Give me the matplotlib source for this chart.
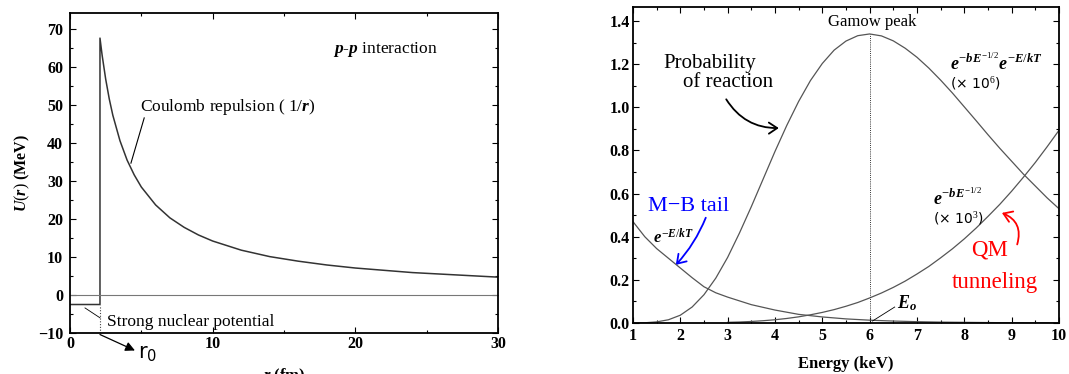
import matplotlib
matplotlib.use("Agg")
import matplotlib.pyplot as plt
from matplotlib.ticker import MultipleLocator, FormatStrFormatter
from matplotlib.patches import FancyArrowPatch

plt.rcParams["font.family"] = ["Liberation Serif", "DejaVu Serif"]
plt.rcParams["mathtext.fontset"] = "custom"
plt.rcParams["mathtext.rm"] = "Liberation Serif"
plt.rcParams["mathtext.it"] = "Liberation Serif:italic:bold"
plt.rcParams["mathtext.bf"] = "Liberation Serif:bold"

# ── p-p potential ─────────────────────────────────────────
R0         = 2.1
WELL_DEPTH = -2.5
r_coul = [2.1, 2.25, 2.5, 2.75, 3, 3.5, 4, 4.5, 5, 6, 7, 8, 9, 10,
          12, 14, 16, 18, 20, 22, 24, 26, 28, 30]
U_coul = [67.6, 63.1, 56.8, 51.6, 47.3, 40.6, 35.5, 31.6, 28.4, 23.7, 20.3,
          17.8, 15.8, 14.2, 11.8, 10.1, 8.9, 7.9, 7.1, 6.5, 5.9, 5.5, 5.1, 4.7]

# ── Gamow peak curves ─────────────────────────────────────
E_gamow = [1, 1.25, 1.5, 1.75, 2, 2.25, 2.5, 2.75, 3, 3.25, 3.5, 3.75, 4,
           4.25, 4.5, 4.75, 5, 5.25, 5.5, 5.75, 6, 6.25, 6.5, 6.75, 7, 7.25,
           7.5, 7.75, 8, 8.25, 8.5, 8.75, 9, 9.25, 9.5, 9.75, 10]
P_gamow = [0.0001, 0.001, 0.005, 0.015, 0.036, 0.074, 0.131, 0.208, 0.304,
           0.417, 0.539, 0.667, 0.795, 0.916, 1.027, 1.124, 1.203, 1.265,
           1.307, 1.332, 1.34, 1.331, 1.308, 1.274, 1.232, 1.182, 1.126,
           1.066, 1.002, 0.938, 0.873, 0.810, 0.750, 0.690, 0.635, 0.580,
           0.530]

E_tunnel = [3, 3.25, 3.5, 3.75, 4, 4.25, 4.5, 4.75, 5, 5.25, 5.5, 5.75, 6,
            6.25, 6.5, 6.75, 7, 7.25, 7.5, 7.75, 8, 8.25, 8.5, 8.75, 9, 9.25,
            9.5, 9.75, 10]
P_tunnel = [0.003, 0.0045, 0.007, 0.0105, 0.015, 0.021, 0.0285, 0.038,
            0.049, 0.062, 0.0775, 0.095, 0.116, 0.139, 0.165, 0.194, 0.227,
            0.262, 0.302, 0.344, 0.390, 0.440, 0.494, 0.550, 0.611, 0.676,
            0.744, 0.817, 0.893]

E_mb = [1, 1.25, 1.5, 1.75, 2, 2.25, 2.5, 2.75, 3, 3.5, 4, 4.5, 5, 5.5, 6,
        6.5, 7, 7.5, 8, 9, 10]
P_mb = [0.47, 0.40, 0.345, 0.30, 0.255, 0.21, 0.168, 0.14, 0.12, 0.085,
        0.06, 0.04, 0.028, 0.019, 0.013, 0.009, 0.006, 0.004, 0.003, 0.001,
        0.0005]
E_PEAK = 6.0

fig = plt.figure(figsize=(10.69, 3.74), dpi=100)
ax1 = fig.add_axes([0.0655, 0.1096, 0.4004, 0.8556])
ax2 = fig.add_axes([0.5921, 0.1364, 0.3985, 0.8449])

for ax in (ax1, ax2):
    ax.tick_params(which="both", direction="in", top=True, right=True,
                   width=0.8, labelsize=11.5)
    ax.tick_params(which="major", length=4)
    ax.tick_params(which="minor", length=2.5)
    for sp in ax.spines.values():
        sp.set_linewidth(1.3)

# ── left: potential ───────────────────────────────────────
line_c = "#333333"
ax1.plot([0, R0, R0] + r_coul[1:], [WELL_DEPTH, WELL_DEPTH] + U_coul,
         color=line_c, lw=1.1)
ax1.axhline(0, color="#777777", lw=0.8)
ax1.plot([R0, R0], [-10, WELL_DEPTH], color="#444444", lw=0.8, ls=(0, (1, 1.5)))
ax1.set_xlim(0, 30)
ax1.set_ylim(-10, 74.2)
ax1.xaxis.set_major_locator(MultipleLocator(10))
ax1.xaxis.set_minor_locator(MultipleLocator(5))
ax1.yaxis.set_major_locator(MultipleLocator(10))
ax1.yaxis.set_minor_locator(MultipleLocator(5))
ax1.tick_params(axis="y", pad=5)
ax1.tick_params(axis="x", pad=2)
ax1.set_ylabel("$U(r)$ (MeV)", fontsize=11.5, fontweight="bold", labelpad=4)
ax1.set_xlabel("$r$ (fm)", fontsize=12, fontweight="bold", labelpad=11)
for lab in ax1.get_xticklabels() + ax1.get_yticklabels():
    lab.set_fontweight("bold")

ax1.text(4.9, 49.5, "Coulomb repulsion ( 1/$r$)", fontsize=12.5, va="center")
ax1.plot([5.2, 4.27], [46.6, 34.7], color="black", lw=0.8)
ax1.text(18.4, 64.5, "$p$-$p$ interaction", fontsize=12.5, va="center")
ax1.text(2.6, -7.1, "Strong nuclear potential", fontsize=12.5, va="center")
ax1.plot([1.05, 2.1], [-3.4, -6.0], color="black", lw=0.6)
ax1.annotate("", xy=(4.55, -14.6), xytext=(R0, -10.4),
             annotation_clip=False,
             arrowprops=dict(arrowstyle="-|>", color="black", lw=0.9,
                             mutation_scale=14, shrinkA=0, shrinkB=0))
ax1.text(4.75, -15.2, "r$_\\mathregular{0}$", fontsize=15, va="center",
         family="DejaVu Sans", clip_on=False)

# ── right: Gamow peak ─────────────────────────────────────
gcol = "#555555"
ax2.plot(E_gamow, P_gamow, color=gcol, lw=0.9)
ax2.plot(E_tunnel, P_tunnel, color=gcol, lw=0.9)
ax2.plot(E_mb, P_mb, color=gcol, lw=0.9)
ax2.plot([E_PEAK, E_PEAK], [0, max(P_gamow)], color="#333333", lw=0.7,
         ls=(0, (1, 1.2)))
ax2.set_xlim(1, 10)
ax2.set_ylim(0, 1.465)
ax2.xaxis.set_major_locator(MultipleLocator(1))
ax2.xaxis.set_minor_locator(MultipleLocator(0.5))
ax2.yaxis.set_major_locator(MultipleLocator(0.2))
ax2.yaxis.set_minor_locator(MultipleLocator(0.1))
ax2.yaxis.set_major_formatter(FormatStrFormatter("%.1f"))
ax2.tick_params(axis="y", pad=2.5)
ax2.tick_params(axis="x", pad=3.5)
ax2.set_xlabel("Energy (keV)", fontsize=12, fontweight="bold", labelpad=9)
for lab in ax2.get_xticklabels() + ax2.get_yticklabels():
    lab.set_fontweight("bold")

ax2.text(6.06, 1.395, "Gamow peak", fontsize=12, ha="center", va="center")
ax2.text(7.69, 1.175, "$e^{-bE^{-1/2}}e^{-E/kT}$", fontsize=13,
         va="baseline")
ax2.text(7.69, 1.112, "(× 10$^6$)", fontsize=10, va="center",
         family="DejaVu Sans")
ax2.text(7.33, 0.545, "$e^{-bE^{-1/2}}$", fontsize=13, va="baseline")
ax2.text(7.33, 0.482, "(× 10$^3$)", fontsize=10, va="center",
         family="DejaVu Sans")
ax2.text(6.57, 0.093, "$E_o$", fontsize=13, va="center")
ax2.plot([6.06, 6.53], [0.009, 0.074], color="black", lw=0.6)
ax2.text(1.42, 0.394, "$e^{-E/kT}$", fontsize=12, va="center")

ax2.text(2.62, 1.205, "Probability", fontsize=15, ha="center", va="center")
ax2.text(3.0, 1.117, "of reaction", fontsize=15, ha="center", va="center")
ax2.add_patch(FancyArrowPatch((2.94, 1.048), (4.14, 0.904),
                              connectionstyle="arc3,rad=0.3",
                              arrowstyle="->,head_length=6,head_width=4",
                              color="black", lw=1.3))

ax2.text(1.32, 0.538, "M−B tail", fontsize=16, color="blue", va="center")
ax2.add_patch(FancyArrowPatch((2.56, 0.50), (1.865, 0.26),
                              connectionstyle="arc3,rad=-0.1",
                              arrowstyle="->,head_length=6,head_width=4",
                              color="blue", lw=1.3))

ax2.text(8.53, 0.34, "QM", fontsize=16.5, color="red", ha="center",
         va="center")
ax2.text(8.64, 0.19, "tunneling", fontsize=16.5, color="red", ha="center",
         va="center")
ax2.add_patch(FancyArrowPatch((9.10, 0.352), (8.74, 0.515),
                              connectionstyle="arc3,rad=0.5",
                              arrowstyle="->,head_length=6,head_width=4",
                              color="red", lw=1.3))

fig.savefig("out.png", dpi=100)
